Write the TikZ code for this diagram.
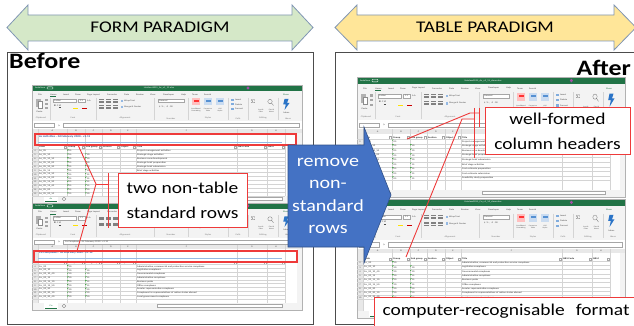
\documentclass[tikz,border=0pt]{standalone}
\usepackage{fontspec}
\setmainfont[FakeStretch=1.18]{Carlito}
\usepackage{ifthen}

\definecolor{formgreen}{HTML}{D5E8C8}
\definecolor{tableyellow}{HTML}{FFE699}
\definecolor{paraline}{HTML}{8096B4}
\definecolor{stepblue}{HTML}{4472C4}
\definecolor{markred}{HTML}{EE3A3A}
\definecolor{xlgreen}{HTML}{217346}
\definecolor{xlrib}{HTML}{F3F3F3}
\definecolor{xlhdr}{HTML}{E8E8E8}
\definecolor{xlgridc}{HTML}{D4D4D4}
\definecolor{xlblue}{HTML}{2B74C7}
\definecolor{xltitle}{HTML}{2F5597}

% sheet contents
\newcommand{\acrows}{{Ac\_05/05/-/Project management activities},
  {Ac\_05\_10/05/10/Strategic stage activities},
  {Ac\_05\_10\_10/05/10/Business case development},
  {Ac\_05\_10\_20/05/10/Strategic brief preparation},
  {Ac\_05\_10\_30/05/10/Strategic brief submission},
  {Ac\_05\_15/05/15/Brief stage activities}}
\newcommand{\aclater}{{Ac\_05\_15\_10/05/15/Cost estimate preparation},
  {Ac\_05\_15\_20/05/15/Cost estimate submission},
  {Ac\_05\_15\_30/05/15/Feasibility study preparation}}
\newcommand{\accodes}{{Ac\_05\_15\_10/05/15/-},
  {Ac\_05\_15\_20/05/15/-},
  {Ac\_05\_15\_30/05/15/-},
  {Ac\_05\_15\_40/05/15/-},
  {Ac\_05\_20/05/20/-},
  {Ac\_05\_20\_10/05/20/-}}
\newcommand{\corows}{{Co\_20/20/-/Administrative, commercial and protective service complexes},
  {Co\_20\_10/20/10/Legislative complexes},
  {Co\_20\_10\_40/20/10/Governmental complexes},
  {Co\_20\_15/20/15/Administrative complexes},
  {Co\_20\_15\_10/20/15/Business parks},
  {Co\_20\_15\_50/20/15/Office complexes},
  {Co\_20\_20/20/20/Secular representative complexes},
  {Co\_20\_20\_10/20/20/Complexes for representatives of nation states abroad},
  {Co\_20\_20\_40/20/20/Local government complexes}}

% Excel window: name, origin, width, height, chrome scale, file, sheet tab, formula bar
\newcommand{\xlwin}[8]{%
\begin{scope}[shift={#2}]
  \fill[white] (0,0) rectangle (#3,#4);
  \begin{scope}[yscale=#5]
    \fill[xlgreen] (0,0) rectangle (#3,6);
    \node[xlbar, anchor=west] (#1-save) at (3,3) {AutoSave};
    \draw[white, line width=0.3pt, rounded corners=0.8pt] (15,1.9) rectangle (21,4.1);
    \node[xlbar] (#1-file) at ({0.47*#3},3) {#6};
    \fill[violet!70] ({0.8*#3},3) circle (1.6);
    \fill[xlrib] (0,6) rectangle (#3,36);
    \foreach \tn/\tx [count=\j] in {File/6,Home/18,Insert/31,Draw/43,Page Layout/55,Formulas/75,Data/92,Review/104,View/118,Developer/131,Help/149,Team/160,Search/172}
      \node[xltiny, anchor=west] (#1-tab\j) at (\tx,9.5) {\tn};
    \draw[xlgreen, line width=0.5pt] (18,11.3) -- (24,11.3);
    \node[xltiny, text=xlgreen] (#1-share) at ({#3-16},9.5) {Share};
    \foreach \gx in {18,64,122,156,196,216,246}
      \draw[xlrule] (\gx,13) -- (\gx,35);
    \foreach \gn/\gx [count=\j] in {Clipboard/9,Font/41,Alignment/93,Number/139,Styles/176,Cells/206,Editing/231,Ideas/256}
      \node[xltiny, text=black!50] (#1-grp\j) at (\gx,33.3) {\gn};
    % clipboard
    \fill[black!30] (4,14) rectangle (9,22);
    \draw[black!45, fill=white, line width=0.2pt] (6.5,16.5) rectangle (10.5,23);
    \node[xltiny] (#1-paste) at (7.5,26.5) {Paste};
    \foreach \iy in {14.5,18.5,22.5}
      \fill[black!35] (12.5,\iy) rectangle (15.5,{\iy+2});
    % font
    \draw[xlbox] (21,14) rectangle (44,17.5);
    \node[xltiny, anchor=west] (#1-font) at (22,15.75) {Calibri};
    \draw[xlbox] (46,14) rectangle (53,17.5);
    \node[xltiny] (#1-size) at (49.5,15.75) {11};
    \node[xltiny, anchor=west] (#1-grow) at (55,15.75) {A\,A};
    \node[xltiny, anchor=west, font=\fontsize{2.4}{2.6}\selectfont\bfseries] (#1-biu) at (22,21.5) {B\enspace\textit{I}\enspace\underline{U}};
    \fill[yellow!85!orange] (41,23.2) rectangle (46,24.4);
    \fill[red!80!black] (50,23.2) rectangle (55,24.4);
    % alignment
    \foreach \ax in {67,74,81}
      \foreach \ay in {14.5,15.8,17.1,20.5,21.8,23.1}
        \draw[black!50, line width=0.3pt] (\ax,\ay) -- ({\ax+5},\ay);
    \fill[xlblue!50] (89,14.8) rectangle (91.3,17.2);
    \fill[xlblue!50] (89,20.8) rectangle (91.3,23.2);
    \node[xltiny, anchor=west] (#1-wrap) at (92,16) {Wrap Text};
    \node[xltiny, anchor=west] (#1-merge) at (92,22) {Merge \& Center};
    % number
    \draw[xlbox] (126,14) rectangle (152,17.5);
    \node[xltiny, anchor=west] (#1-gen) at (127,15.75) {General};
    \node[xltiny, anchor=west] (#1-fmt) at (127,21.5) {\$\enspace\%\enspace,\enspace.0\enspace.00};
    % styles
    \foreach \sx/\sc in {160/red,172/xlblue,184/xlblue} {
      \fill[\sc!25] (\sx,13.5) rectangle ({\sx+8},20.5);
      \fill[\sc!80] ({\sx+1.5},15) rectangle ({\sx+6.5},17);
    }
    \node[xlsmall] (#1-cond) at (164,25) {Conditional\\Formatting};
    \node[xlsmall] (#1-astab) at (176,25) {Format as\\Table};
    \node[xlsmall] (#1-cstyle) at (188,25) {Cell\\Styles};
    % cells
    \foreach \cn/\cy [count=\j] in {Insert/15,Delete/19.5,Format/24} {
      \fill[xlblue!60] (199,{\cy-1}) rectangle (202,{\cy+1});
      \node[xltiny, anchor=west] (#1-cell\j) at (203,\cy) {\cn};
    }
    % editing
    \node[xltiny, font=\fontsize{4.5}{4.5}\selectfont] (#1-sum) at (221,16.5) {$\Sigma$};
    \draw[black!55, line width=0.3pt] (238,16.5) circle (2.2) (239.5,18) -- (241.5,20.5);
    \node[xlsmall] (#1-sort) at (229,26) {Sort \&\\Filter};
    \node[xlsmall] (#1-find) at (239.5,26) {Find \&\\Select};
    % ideas
    \fill[xlblue] (252.5,14) -- (256.5,14) -- (255,18) -- (257.5,18) -- (252.5,25) -- (253.8,19.5) -- (251.2,19.5) -- cycle;
    \node[xltiny] (#1-ideas) at (254.5,28) {Ideas};
    % formula bar and column letters
    \draw[xlbox] (2,38.5) rectangle (22,42.5);
    \node[xltiny, text=black!55] (#1-fx) at (27,40.5) {\textit{fx}};
    \draw[xlbox] (31,38.5) rectangle ({#3-3},42.5);
    \node[xltiny, anchor=west] (#1-fbar) at (33,40.5) {#8};
    \fill[xlhdr] (0,44) rectangle (#3,48);
    \foreach \cl/\lx in {A/20.5,B/44,C/61.5,D/79,E/96,F/154.5,G/220,H/244}
      \node[xltiny] (#1-col\cl) at (\lx,46) {\cl};
  \end{scope}
  \fill[xlhdr] (0,{48*#5}) rectangle (6,{#4-7});
  \fill[xlrib] ({#3-5},{48*#5}) rectangle (#3,{#4-7});
  \foreach \cx in {6,35,53,70,88,104,205,235,253}
    \draw[xlrule] (\cx,{44*#5}) -- (\cx,{#4-7});
  \fill[xlrib] (0,{#4-7}) rectangle (#3,#4);
  \fill[white] (12,{#4-7}) rectangle (26,{#4-1.5});
  \draw[xlgreen, line width=0.6pt] (13,{#4-2}) -- (25,{#4-2});
  \node[xltiny, text=xlgreen] (#1-sheet) at (19,{#4-4.5}) {#7};
  \draw[black!50, line width=0.3pt] (32,{#4-4}) circle (1.8);
  \draw[xlbox] (125,{#4-5.5}) rectangle ({#3-20},{#4-2.5});
  \draw[black!30, line width=0.4pt] (0,0) rectangle (#3,#4);
\end{scope}}

% title rows above the table
\newcommand{\xltitle}[4]{%
\begin{scope}[shift={#2}]
  \node[xlcell, text=xltitle, font=\fontsize{2.7}{2.9}\selectfont\bfseries] (#1-title) at (7,#3) {#4};
  \draw[xlblue!50, line width=0.5pt] (6,{#3+5}) -- (250,{#3+5});
\end{scope}}

% header row
\newcommand{\xlhead}[3]{%
\begin{scope}[shift={#2}]
  \foreach \hn/\hx [count=\j] in {Code/7,Group/36,Sub group/54,Section/71,Object/89,Title/105,NBS Code/206,NRM/236}
    \node[xlhd] (#1-h\j) at (\hx,#3) {\hn};
  \foreach \dx in {35,53,70,88,104,205,235,253}
    \draw[xlbox] ({\dx-3},{#3-1.3}) rectangle ({\dx-0.5},{#3+1.3});
  \draw[xlrule] (0,{#3+2}) -- (253,{#3+2});
\end{scope}}

% data rows: name, origin, first y, pitch, first row number, list
\newcommand{\xlrows}[6]{%
\begin{scope}[shift={#2}]
  \foreach \cd/\cb/\cc/\ct [count=\i] in #6 {
    \pgfmathsetmacro\ry{#3+(\i-1)*#4}
    \pgfmathtruncatemacro\rn{\i+#5-1}
    \node[xltiny] (#1-n\rn) at (3,\ry) {\rn};
    \node[xlcell] (#1-a\rn) at (7,\ry) {\cd};
    \node[xlcell] (#1-b\rn) at (36.5,\ry) {\cb};
    \fill[xltick] (35.3,{\ry-#4/2+0.3}) -- ++(1.4,0) -- ++(-1.4,1.4) -- cycle;
    \ifthenelse{\equal{\cc}{-}}{}{%
      \node[xlcell] (#1-c\rn) at (54.5,\ry) {\cc};
      \fill[xltick] (53.3,{\ry-#4/2+0.3}) -- ++(1.4,0) -- ++(-1.4,1.4) -- cycle;}
    \ifthenelse{\equal{\ct}{-}}{}{%
      \node[xlcell] (#1-t\rn) at (105,\ry) {\ct};}
    \draw[xlrule] (0,{\ry+#4/2}) -- (253,{\ry+#4/2});
  }
\end{scope}}

\begin{document}
\begin{tikzpicture}[x=1pt, y=-1pt,
  paradigm/.style={draw=paraline, line width=0.8pt},
  paratext/.style={font=\fontsize{16.3}{18}\selectfont, text=black},
  frame/.style={draw=black!70, line width=0.8pt},
  heading/.style={font=\fontsize{22}{24}\selectfont\bfseries, inner sep=0pt},
  callout/.style={draw=markred, line width=1pt, fill=white, font=\fontsize{16.5}{25}\selectfont, align=center},
  callline/.style={draw=markred, line width=0.9pt},
  hilite/.style={draw=markred, line width=1.1pt, inner sep=0pt},
  blockarrow/.style={fill=stepblue, draw=stepblue!70!black, line width=0.6pt},
  arrowtext/.style={text=white, font=\fontsize{17}{22.5}\selectfont, align=center},
  xlbar/.style={inner sep=0pt, text=white, font=\fontsize{2.2}{2.4}\selectfont},
  xltiny/.style={inner sep=0pt, text=black!70, font=\fontsize{2.2}{2.4}\selectfont},
  xlsmall/.style={inner sep=0pt, text=black!70, align=center, font=\fontsize{1.7}{1.9}\selectfont},
  xlcell/.style={anchor=west, inner sep=0pt, text=black!80, font=\fontsize{2.3}{2.5}\selectfont},
  xlhd/.style={xlcell, font=\fontsize{2.3}{2.5}\selectfont\bfseries},
  xlbox/.style={draw=black!35, line width=0.2pt, fill=white},
  xlrule/.style={draw=xlgridc, line width=0.25pt},
  xltick/.style={fill=green!55!black}]
\useasboundingbox (0,0) rectangle (634,326);
\clip (0,0) rectangle (634,326);

% before / after panels
\draw[frame] (7,52) rectangle (313,324);
\draw[frame] (335,52) rectangle (645,324);
\node[heading, anchor=base west] (before) at (9,69) {Before};
\node[heading, anchor=base east] (after) at (631,76) {After};

% form paradigm sheets
\xlwin{lt}{(32,85)}{270}{118}{1}{Uniclass2015\_Ac\_v1\_11.xlsx}{Ac}{}
\xltitle{lt}{(32,85)}{52}{Ac Activities - 04 February 2020 - v1.11}
\xlhead{lt}{(32,85)}{62}
\xlrows{lt}{(32,85)}{66}{3.9}{4}{\acrows}
\xlrows{ltx}{(32,85)}{89.4}{3.9}{10}{\accodes}
\xlwin{lb}{(32,203)}{270}{107}{0.96}{Uniclass2015\_Co\_v1\_10.xlsx}{Co}{Co Complexes - 04 February 2020 - v1.10}
\xltitle{lb}{(32,203)}{50}{Co Complexes - 04 February 2020 - v1.10}
\xlhead{lb}{(32,203)}{59.5}
\xlrows{lb}{(32,203)}{63.5}{3.8}{4}{\corows}

% table paradigm sheets
\xlwin{rt}{(357,77)}{268}{120}{1.19}{Uniclass2015\_Ac\_v1\_11\_clean.xlsx}{Ac}{}
\xlhead{rt}{(357,77)}{60.5}
\xlrows{rt}{(357,77)}{64.5}{4.6}{2}{\acrows}
\xlrows{rtx}{(357,77)}{92.1}{4.6}{8}{\aclater}
\xlwin{rb}{(357,199)}{268}{119}{1.125}{Uniclass2015\_Co\_v1\_10\_clean.xlsx}{Co}{}
\xlhead{rb}{(357,199)}{60}
\xlrows{rb}{(357,199)}{64}{4.3}{2}{\corows}

% marked rows
\node[hilite, minimum width=261pt, minimum height=11pt] (acmark) at (165.5,139.5) {};
\node[hilite, minimum width=263pt, minimum height=11pt] (comark) at (165.5,256.5) {};

% step arrow
\draw[blockarrow] (288,145) -- (364,145) -- (364,127) -- (391,195) -- (364,263) -- (364,247) -- (288,247) -- cycle;
\node[arrowtext] (remove) at (328,196) {remove\\non-\\standard\\rows};

% left callout
\node[callout, minimum width=129pt, minimum height=54pt] (tworows) at (182.5,200) {two non-table\\standard rows};
\coordinate (acpin) at (78,145);
\coordinate (copin) at (77,251);
\coordinate (ljoin) at (96,184);
\coordinate (lbar1) at (108,173);
\coordinate (lbar2) at (108,228);
\draw[callline] (acpin) -- (ljoin) -- (copin);
\draw[callline] (ljoin) -- (ljoin -| lbar1);
\draw[callline] (lbar1) -- (lbar2);

% right callouts
\node[callout, minimum width=145pt, minimum height=46pt] (headers) at (557.5,131) {well-formed\\column headers};
\coordinate (hdrtop) at (407,139);
\coordinate (hdrbot) at (406,257);
\coordinate (rjoin1) at (470,113);
\coordinate (rjoin2) at (462,119);
\coordinate (rbar1a) at (474,108);
\coordinate (rbar1b) at (474,158);
\coordinate (rbar2a) at (479,108);
\coordinate (rbar2b) at (479,127);
\draw[callline] (hdrtop) -- (rjoin1) -- (rjoin1 -| rbar2a);
\draw[callline] (hdrbot) -- (rjoin2) -- (rjoin2 -| rbar1a);
\draw[callline] (rbar1a) -- (rbar1b);
\draw[callline] (rbar2a) -- (rbar2b);
\node[callout, anchor=north west, align=left, inner xsep=8pt, inner ysep=5pt, text height=13pt, text depth=14pt, text width=262pt] (format) at (374,297) {computer-recognisable\ \ format};

% paradigm arrows
\draw[paradigm, fill=formgreen] (7,27.5) -- (28,5) -- (28,15) -- (292,15) -- (292,5) -- (313,27.5) -- (292,50) -- (292,41) -- (28,41) -- (28,50) -- cycle;
\node[paratext] (form) at (160,27.5) {FORM PARADIGM};
\draw[paradigm, fill=tableyellow] (335,27.5) -- (357,5) -- (357,15) -- (614,15) -- (614,5) -- (636,27.5) -- (614,50) -- (614,41) -- (357,41) -- (357,50) -- cycle;
\node[paratext] (table) at (485,27.5) {TABLE PARADIGM};
\end{tikzpicture}
\end{document}
